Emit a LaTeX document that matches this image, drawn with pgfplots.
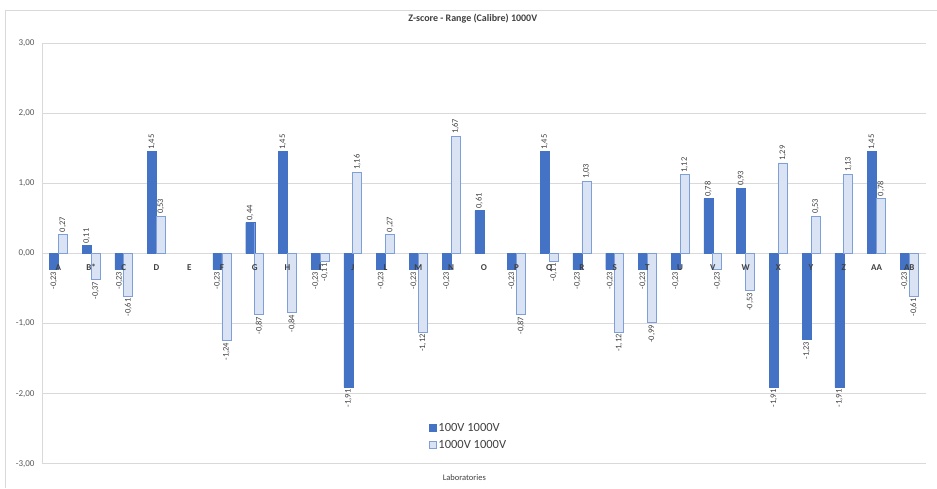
\documentclass[border=0pt]{standalone}
\usepackage{pgfplots}
\pgfplotsset{compat=1.18}
\usepackage{fontspec}
\setmainfont{Carlito}
\definecolor{darkbar}{HTML}{4472C4}
\definecolor{lightbar}{HTML}{DAE3F3}
\definecolor{lightedge}{HTML}{7F9FD9}
\definecolor{gridgray}{HTML}{D9D9D9}
\definecolor{txtgray}{HTML}{595959}
\definecolor{lblgray}{HTML}{404040}
% tick labels drawn above the bars, as in Excel
\pgfplotsset{
    layers/labels on top/.define layer set={
        axis background,axis grid,axis ticks,axis lines,pre main,main,
        axis tick labels,axis descriptions,axis foreground}{/pgfplots/layers/standard},
}

\begin{document}
\begin{tikzpicture}
% 1pt = 1px of the reference; plot area lower-left corner at the origin
\begin{axis}[
    set layers=labels on top,
    at={(0pt,0pt)}, anchor=south west,
    scale only axis, width=884pt, height=421pt,
    ybar=0pt, bar width=9pt,
    xmin=-0.5, xmax=26.5, ymin=-3, ymax=3,
    xtick={0,...,26},
    xticklabels={A,B*,C,D,E,F,G,H,I,J,L,M,N,O,P,Q,R,S,T,U,V,W,X,Y,Z,AA,AB},
    ytick={-3,...,3},
    major tick length=0pt,
    ymajorgrids, grid style={gridgray, line width=0.8pt},
    axis lines*=left,
    x axis line style={draw=none},
    y axis line style={gridgray, line width=0.8pt},
    /pgf/number format/fixed, /pgf/number format/fixed zerofill,
    /pgf/number format/precision=2, /pgf/number format/use comma,
    /pgf/number format/assume math mode=true,
    yticklabel style={font=\fontsize{9}{10}\selectfont, text=txtgray, xshift=-4pt},
    xticklabel style={font=\fontsize{9}{10}\selectfont\bfseries, text=lblgray, anchor=north, yshift=203pt},
    title={Z-score - Range (Calibre) 1000V},
    title style={at={(axis description cs:0.4876,1)}, anchor=center, yshift=18pt,
        font=\fontsize{10}{12}\selectfont\bfseries, text=lblgray},
    xlabel={Laboratories},
    xlabel style={at={(axis description cs:0.478,0)}, anchor=center, yshift=-14pt,
        font=\fontsize{8.5}{10}\selectfont, text=lblgray},
    legend style={at={(0.434,0.107)}, anchor=north west, draw=none, fill=none,
        font=\fontsize{12.5}{14}\selectfont, text=lblgray, row sep=4pt},
    legend cell align=left,
    legend image code/.code={\draw[#1] (0pt,-3.5pt) rectangle (7pt,3.5pt);},
    nodes near coords,
    visualization depends on={rawy \as \rawy},
    every node near coord/.append style={rotate=90, font=\fontsize{8.5}{10}\selectfont,
        text=lblgray, inner sep=2pt},
    every node near coord/.append code={%
        \ifdim\rawy pt<0pt \pgfkeysalso{anchor=east}\else\pgfkeysalso{anchor=west}\fi},
]
% 100V 1000V
\addplot[fill=darkbar, draw=darkbar] coordinates {
    (0,-0.23) (1,0.11) (2,-0.23) (3,1.45) (5,-0.23) (6,0.44) (7,1.45)
    (8,-0.23) (9,-1.91) (10,-0.23) (11,-0.23) (12,-0.23) (13,0.61) (14,-0.23)
    (15,1.45) (16,-0.23) (17,-0.23) (18,-0.23) (19,-0.23) (20,0.78) (21,0.93)
    (22,-1.91) (23,-1.23) (24,-1.91) (25,1.45) (26,-0.23)};
% 1000V 1000V
\addplot[fill=lightbar, draw=lightedge, line width=0.8pt] coordinates {
    (0,0.27) (1,-0.37) (2,-0.61) (3,0.53) (5,-1.24) (6,-0.87) (7,-0.84)
    (8,-0.11) (9,1.16) (10,0.27) (11,-1.12) (12,1.67) (14,-0.87)
    (15,-0.11) (16,1.03) (17,-1.12) (18,-0.99) (19,1.12) (20,-0.23) (21,-0.53)
    (22,1.29) (23,0.53) (24,1.13) (25,0.78) (26,-0.61)};
\legend{100V 1000V, 1000V 1000V}
\end{axis}
\draw[gridgray, line width=0.8pt] (-37pt,-24pt) -- (-37pt,454pt) -- (895pt,454pt);
\path (-42pt,-24pt) rectangle (895pt,464pt);
\end{tikzpicture}
\end{document}
